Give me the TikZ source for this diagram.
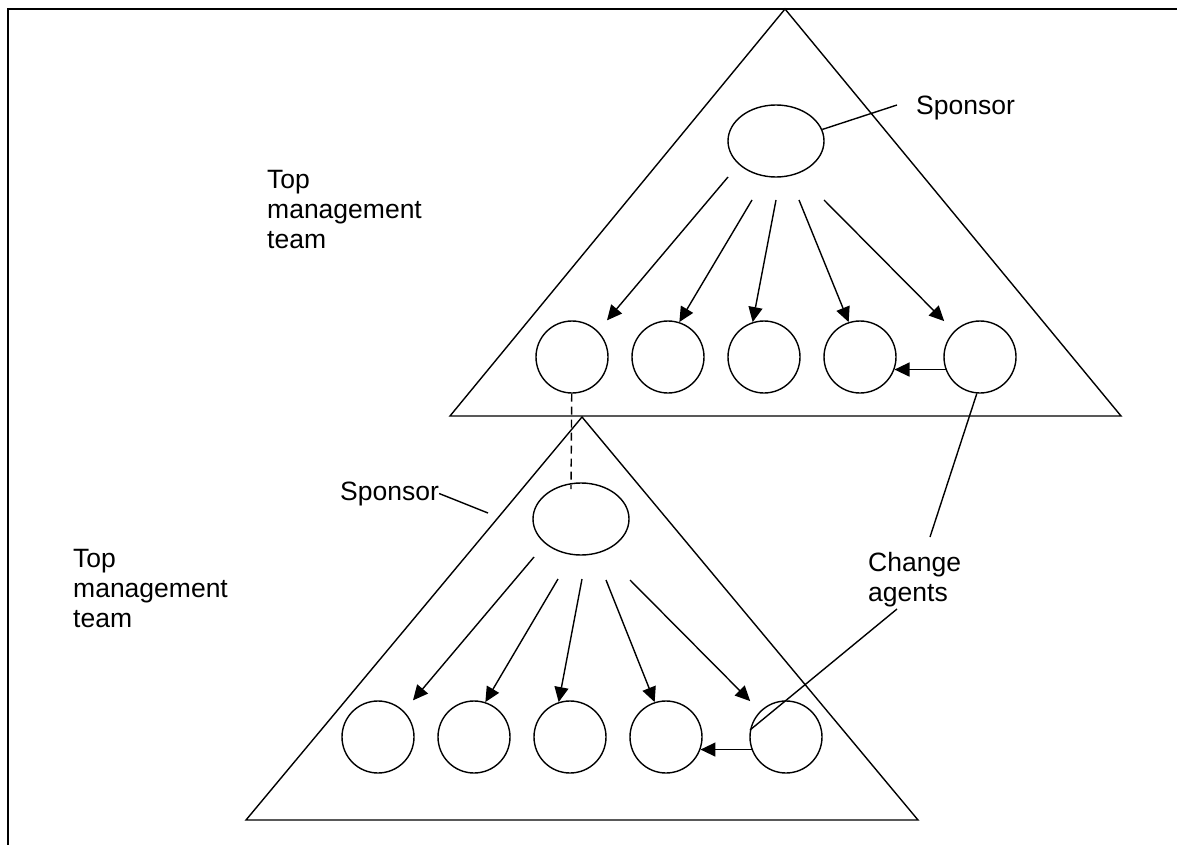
\documentclass[tikz,border=0pt]{standalone}
\usepackage{fontspec}
\setmainfont{Liberation Sans}
\usetikzlibrary{arrows.meta,shapes.geometric}
\tikzset{
  ln/.style={line width=1.4pt, line join=miter},
  arr/.style={ln, -{Triangle[length=15pt,width=14pt]}},
  agent/.style={circle, draw, line width=1.4pt, minimum size=72pt, inner sep=0pt},
  sponsorov/.style={ellipse, draw, line width=1.4pt, minimum width=96pt, minimum height=72pt, inner sep=0pt},
  lbl/.style={font=\fontsize{26.5}{30}\selectfont, inner sep=0pt, align=left, anchor=base west},
}
\begin{document}
\begin{tikzpicture}[x=1pt,y=-1pt]
\useasboundingbox (0,0) rectangle (1177,845);
% frame
\draw[line width=2pt] (8,845) -- (8,9) -- (1177,9);
% triangles
\draw[ln] (785,9) -- (1121,416) -- (450,416) -- cycle;
\draw[ln] (582,417) -- (918,820) -- (246,820) -- cycle;
% top group
\node[sponsorov] (e1) at (776,141) {};
\foreach \n/\x in {1/572,2/668,3/764,4/860,5/980} \node[agent] (a\n) at (\x,357) {};
\coordinate (s1) at (728,177);
\coordinate (s2) at (752,200);
\coordinate (s3) at (776,200);
\coordinate (s4) at (799,200);
\coordinate (s5) at (824,200);
\draw[arr, shorten >=14pt] (s1) -- (a1.45);
\draw[arr] (s2) -- (a2.72);
\draw[arr] (s3) -- (a3.108);
\draw[arr] (s4) -- (a4.108);
\draw[arr, shorten >=14pt] (s5) -- (a5.135);
\draw[arr] (a5.200) -- (a4.-20);
% bottom group
\node[sponsorov] (e2) at (581,519) {};
\foreach \n/\x in {1/378,2/474,3/570,4/666,5/786} \node[agent] (b\n) at (\x,737) {};
\coordinate (t1) at (534,557);
\coordinate (t2) at (558,579);
\coordinate (t3) at (582,579);
\coordinate (t4) at (606,580);
\coordinate (t5) at (630,580);
\draw[arr, shorten >=14pt] (t1) -- (b1.45);
\draw[arr] (t2) -- (b2.72);
\draw[arr] (t3) -- (b3.108);
\draw[arr] (t4) -- (b4.108);
\draw[arr, shorten >=14pt] (t5) -- (b5.135);
\draw[arr] (b5.200) -- (b4.-20);
% dashed link
\coordinate (dB) at (571,489);
\draw[ln, dash pattern=on 8pt off 5pt] (a1) -- (dB);
% labels (base anchor = baseline of the last line)
\node[lbl] (tmt1) at (267,248) {Top\\management\\team};
\node[lbl] (tmt2) at (73,627) {Top\\management\\team};
\node[lbl] (spA) at (916,115) {Sponsor};
\node[lbl] (spB) at (340,500) {Sponsor};
\node[lbl] (chg) at (868,601) {Change\\agents};
% leader lines
\coordinate (spAend) at (897,105);
\draw[ln] (e1.14) -- (spAend);
\coordinate (spBend) at (488,513);
\draw[ln] (spB.east) -- (spBend);
\coordinate (ca1) at (930,537);
\coordinate (ca2) at (897,609);
\draw[ln] (a5.265) -- (ca1);
\draw[ln] (ca2) -- (b5.169);
\end{tikzpicture}
\end{document}
